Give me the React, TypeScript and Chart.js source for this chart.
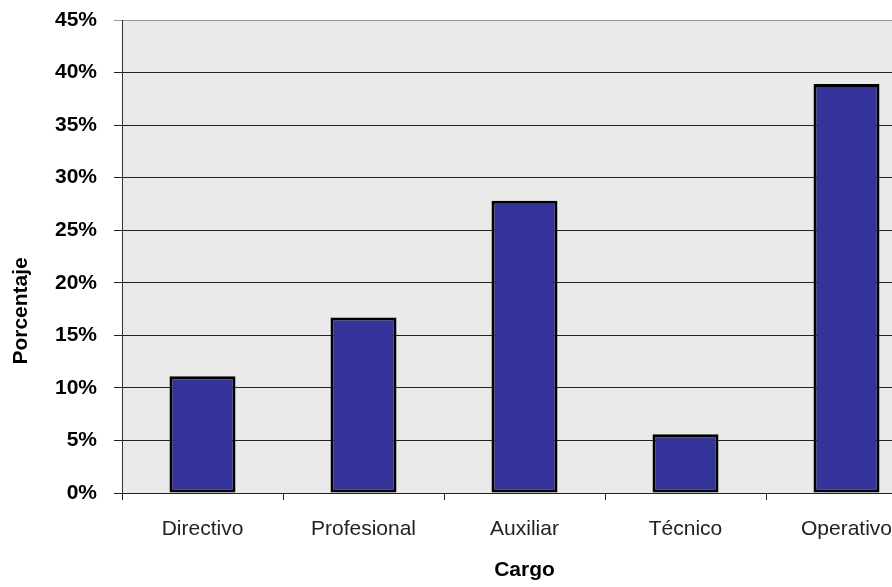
import React, { useEffect, useRef } from "react";
import { Chart, registerables } from "chart.js";

Chart.register(...registerables);

const categories = ["Directivo", "Profesional", "Auxiliar", "Técnico", "Operativo"];
const percentages = [11.1, 16.7, 27.8, 5.6, 38.9];
const yMin = 0;
const yMax = 45;
const yStep = 5;
const xTitle = "Cargo";
const yTitle = "Porcentaje";

const FONT = "'Liberation Sans', Arial, Helvetica, sans-serif";

const plotBackground = {
  id: "plotBackground",
  beforeDraw(chart: any) {
    const { ctx, chartArea } = chart;
    ctx.save();
    ctx.fillStyle = "#EAEAEA";
    ctx.fillRect(chartArea.left, chartArea.top, chartArea.right - chartArea.left, chartArea.bottom - chartArea.top);
    ctx.restore();
  },
};

// Excel places the value-axis title centred on the chart body rather than the plot area.
const yAxisTitle = {
  id: "yAxisTitle",
  afterDraw(chart: any) {
    const { ctx, chartArea } = chart;
    const cy = chartArea.top + (chartArea.bottom - chartArea.top) * 0.615;
    ctx.save();
    ctx.translate(21, cy);
    ctx.rotate(-Math.PI / 2);
    ctx.font = `bold 21px ${FONT}`;
    ctx.fillStyle = "#000";
    ctx.textAlign = "center";
    ctx.textBaseline = "middle";
    ctx.fillText(yTitle, 0, 0);
    ctx.restore();
  },
};

export default function App() {
  const ref = useRef<HTMLCanvasElement | null>(null);

  useEffect(() => {
    if (!ref.current) return;
    const chart = new Chart(ref.current, {
      type: "bar",
      data: {
        labels: categories,
        datasets: [
          {
            data: percentages,
            backgroundColor: "#333399",
            borderColor: "#000000",
            borderWidth: 3,
            borderSkipped: false,
            barPercentage: 0.41,
            categoryPercentage: 1,
          },
        ],
      },
      options: {
        animation: false,
        responsive: false,
        devicePixelRatio: 1,
        layout: { padding: { top: 20, right: 8, left: 0, bottom: 0 } },
        plugins: { legend: { display: false }, tooltip: { enabled: false } },
        scales: {
          x: {
            afterFit(scale: any) {
              scale.height = 94;
            },
            grid: {
              offset: true,
              drawOnChartArea: false,
              drawTicks: true,
              tickLength: 7,
              color: "#222",
            },
            border: { display: true, color: "#222", width: 1 },
            ticks: {
              padding: 17,
              color: "#222",
              font: { family: FONT, size: 21, weight: "normal" },
            },
            title: {
              display: true,
              text: xTitle,
              color: "#000",
              font: { family: FONT, size: 21, weight: "bold" },
              padding: { top: 0, bottom: 4 },
            },
          },
          y: {
            min: yMin,
            max: yMax,
            afterFit(scale: any) {
              scale.width = 122;
              scale.paddingTop = 0;
              scale.paddingBottom = 0;
            },
            grid: {
              tickLength: 8,
              color: (ctx: any) => (ctx.tick && ctx.tick.value === yMax ? "#999" : "#222"),
            },
            border: { display: true, color: "#333", width: 1 },
            ticks: {
              stepSize: yStep,
              padding: 17,
              color: "#000",
              font: { family: FONT, size: 21, weight: "bold" },
              callback: (v: any) => `${v}%`,
            },
            title: { display: false, text: yTitle },
          },
        },
      },
      plugins: [plotBackground, yAxisTitle],
    });
    return () => chart.destroy();
  }, []);

  return (
    <div style={{ position: "absolute", left: 0, top: 0, width: 892, height: 587, overflow: "hidden", background: "#fff" }}>
      <canvas ref={ref} width={935} height={587} style={{ display: "block" }} />
    </div>
  );
}
